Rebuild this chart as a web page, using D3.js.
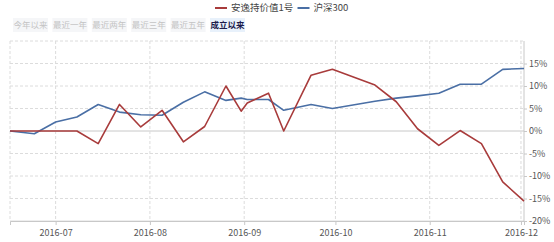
<!DOCTYPE html>
<html>
<head>
<meta charset="utf-8">
<script src="https://cdn.jsdelivr.net/npm/d3@7"></script>
<style>
body { margin: 0; background: #fff; font-family: "Noto Sans CJK SC", "Noto Sans", sans-serif; }
svg text { font-family: "Noto Sans CJK SC", "Noto Sans", sans-serif; }
</style>
</head>
<body>
<svg id="chart" width="554" height="242"></svg>
<script>
// weekly dates (both series share them)
var dates = ["2016-06-16","2016-06-24","2016-07-01","2016-07-08","2016-07-15","2016-07-22","2016-07-29",
	"2016-08-05","2016-08-12","2016-08-19","2016-08-26","2016-08-31","2016-09-02","2016-09-09","2016-09-14",
	"2016-09-23","2016-09-30","2016-10-14","2016-10-21","2016-10-28","2016-11-04","2016-11-11","2016-11-18",
	"2016-11-25","2016-12-02"]
var fund = [0, 0, 0, 0, -2.8, 5.9, 0.9, 4.6, -2.4, 1.0, 10.0, 4.4, 6.2, 8.4, 0.0, 12.4, 13.7, 10.2, 6.5, 0.5, -3.2, 0.1, -2.8, -11.3, -15.6]
var hs300 = [0, -0.6, 2.0, 3.1, 5.9, 4.2, 3.6, 3.5, 6.4, 8.7, 6.8, 7.3, 7.0, 7.0, 4.6, 5.9, 5.0, 6.6, 7.3, 7.8, 8.4, 10.4, 10.4, 13.7, 13.9]
var names = ["安逸持价值1号", "沪深300"]
var colors = ["#a83b3b", "#4a6fa5"]
var ranges = ["今年以来", "最近一年", "最近两年", "最近三年", "最近五年", "成立以来"]
var yTicks = [-20, -15, -10, -5, 0, 5, 10, 15]
var xTicks = ["2016-07-01","2016-08-01","2016-09-01","2016-10-01","2016-11-01","2016-12-01"]

var parse = d3.timeParse("%Y-%m-%d")
var svg = d3.select("#chart")
var pLeft = 10, pRight = 524, pTop = 41, pBottom = 221

var x = d3.scaleTime()
		.domain([parse(dates[0]), parse(dates[dates.length-1])])
		.range([pLeft, pRight])
var y = d3.scaleLinear()
		.domain([-20, 20])
		.range([pBottom, pTop])

// range buttons
var btn = svg.append("g")
ranges.forEach(function(r, i) {
	var on = i == ranges.length - 1
	var bx = 13 + i * 39.4
	btn.append("rect")
		.attr("x", bx).attr("y", 18).attr("width", 35).attr("height", 14)
		.attr("fill", on ? "#e8f1fb" : "#f5f6f8")
	btn.append("text")
		.attr("x", bx + 17.5).attr("y", 25).attr("dy", "0.35em")
		.attr("text-anchor", "middle")
		.style("font-size", "8.5px")
		.style("font-weight", on ? "bold" : "normal")
		.attr("fill", on ? "#1c1c4c" : "#c4c4c4")
		.text(r)
})

// legend
var lx = [215, 297.5]
names.forEach(function(n, i) {
	svg.append("line")
		.attr("x1", lx[i]).attr("x2", lx[i] + 12).attr("y1", 8).attr("y2", 8)
		.attr("stroke", colors[i]).attr("stroke-width", 2)
	svg.append("text")
		.attr("x", lx[i] + 16).attr("y", 8).attr("dy", "0.35em")
		.style("font-size", "9.5px").attr("fill", "#444")
		.text(n)
})

// grid
var g = svg.append("g")
g.selectAll(".hgrid").data(yTicks.concat([20])).enter().append("line")
	.attr("x1", pLeft).attr("x2", pRight)
	.attr("y1", function(d) { return y(d) }).attr("y2", function(d) { return y(d) })
	.attr("stroke", function(d) { return d == 0 ? "#c8c8c8" : "#dcdcdc" })
	.attr("stroke-dasharray", function(d) { return d == 0 || d == -20 ? null : "3,2" })
g.selectAll(".vgrid").data(xTicks).enter().append("line")
	.attr("x1", function(d) { return x(parse(d)) }).attr("x2", function(d) { return x(parse(d)) })
	.attr("y1", pTop).attr("y2", pBottom)
	.attr("stroke", "#dcdcdc").attr("stroke-dasharray", "3,2")
g.append("line").attr("x1", pLeft).attr("x2", pLeft).attr("y1", pTop).attr("y2", pBottom)
	.attr("stroke", "#dcdcdc").attr("stroke-dasharray", "3,2")
g.append("line").attr("x1", pRight).attr("x2", pRight).attr("y1", pTop).attr("y2", pBottom)
	.attr("stroke", "#c8c8c8")

// axes
var xAxis = d3.axisBottom(x)
		.tickValues(xTicks.map(parse))
		.tickFormat(d3.timeFormat("%Y-%m"))
		.tickSize(4)
var xa = svg.append("g")
		.attr("transform", "translate(0," + pBottom + ")")
		.call(xAxis)
xa.select(".domain").attr("stroke", "#c8c8c8")
xa.selectAll(".tick line").attr("stroke", "#c8c8c8")
xa.selectAll(".tick text").attr("fill", "#555").style("font-size", "9px").attr("dy", "0.9em")

var yAxis = d3.axisRight(y)
		.tickValues(yTicks)
		.tickFormat(function(d) { return d + "%" })
		.tickSize(3)
var ya = svg.append("g")
		.attr("transform", "translate(" + pRight + ",0)")
		.call(yAxis)
ya.select(".domain").remove()
ya.selectAll(".tick line").attr("stroke", "#c8c8c8")
ya.selectAll(".tick text").attr("fill", "#555").style("font-size", "9px").attr("x", 5)

// lines
var line = d3.line()
		.x(function(d, i) { return x(parse(dates[i])) })
		.y(function(d) { return y(d) })
var series = [fund, hs300]
for (var i = 1; i >= 0; i--) {
	svg.append("path")
		.attr("d", line(series[i]))
		.attr("fill", "none")
		.attr("stroke", colors[i])
		.attr("stroke-width", 1.6)
		.attr("stroke-linejoin", "round")
}
</script>
</body>
</html>
